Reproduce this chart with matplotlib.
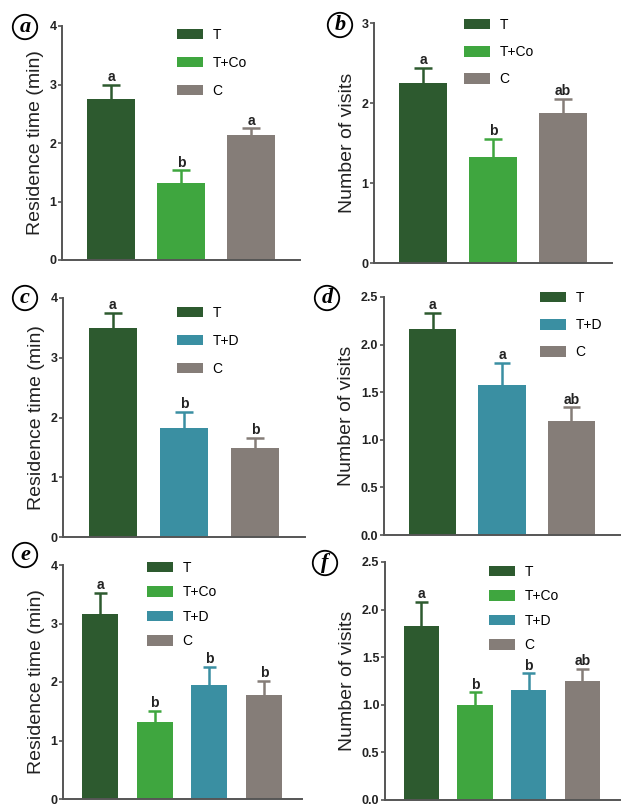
import matplotlib
matplotlib.use('Agg')
import matplotlib.pyplot as plt
import numpy as np

plt.rcParams['font.family'] = ['Liberation Sans', 'DejaVu Sans']

# Data
groups_co = ['T', 'T+Co', 'C']
groups_d = ['T', 'T+D', 'C']
groups_all = ['T', 'T+Co', 'T+D', 'C']

res_a = [2.75, 1.32, 2.13]
res_a_err = [0.25, 0.21, 0.12]
vis_b = [2.25, 1.33, 1.87]
vis_b_err = [0.19, 0.22, 0.18]
sig_a = ['a', 'b', 'a']
sig_b = ['a', 'b', 'ab']

res_c = [3.49, 1.83, 1.49]
res_c_err = [0.26, 0.26, 0.17]
vis_d = [2.16, 1.58, 1.20]
vis_d_err = [0.17, 0.23, 0.14]
sig_c = ['a', 'b', 'b']
sig_d = ['a', 'a', 'ab']

res_e = [3.17, 1.31, 1.95, 1.77]
res_e_err = [0.35, 0.20, 0.31, 0.25]
vis_f = [1.83, 1.00, 1.16, 1.25]
vis_f_err = [0.25, 0.13, 0.17, 0.13]
sig_e = ['a', 'b', 'b', 'b']
sig_f = ['a', 'b', 'b', 'ab']

colors = {'T': '#2d5a2f', 'T+Co': '#3fa63f', 'T+D': '#3a8fa2', 'C': '#857d78'}
axis_col = '#555555'

fig = plt.figure(figsize=(6.24, 8.07), dpi=100)
W, H = 624.0, 807.0


def make_ax(l, r, b, t):
    return fig.add_axes([l / W, 1 - b / H, (r - l) / W, (b - t) / H])


def panel(ax, groups, vals, errs, sigs, ymax, yticks, ylabel, fmt, xlim, width,
          leg_xy, leg_space):
    x = np.arange(len(groups))
    cols = [colors[g] for g in groups]
    bars = ax.bar(x, vals, width=width, color=cols, zorder=2)
    cap = width * 0.18
    for xi, v, e, c, s in zip(x, vals, errs, cols, sigs):
        ax.vlines(xi, v, v + e, color=c, lw=1.8, zorder=1)
        ax.hlines(v + e, xi - cap, xi + cap, color=c, lw=1.8, zorder=1)
        ax.text(xi, v + e + ymax * 0.003, s, ha='center', va='bottom',
                fontsize=10, fontweight='bold', color='#222222')
    ax.set_xlim(*xlim)
    ax.set_ylim(0, ymax)
    ax.set_yticks(yticks)
    ax.set_yticklabels([fmt.format(t) for t in yticks], fontweight='bold',
                       fontsize=9, color='#222222')
    ax.set_xticks([])
    for sp in ['top', 'right']:
        ax.spines[sp].set_visible(False)
    for sp in ['left', 'bottom']:
        ax.spines[sp].set_color(axis_col)
        ax.spines[sp].set_linewidth(1.4)
    ax.tick_params(axis='y', length=3, width=1.2, color=axis_col, pad=1)
    ax.set_ylabel(ylabel, fontsize=14, color='#222222', labelpad=4)
    ax.legend(bars, groups, loc='upper left',
              bbox_to_anchor=(leg_xy[0] / W, 1 - leg_xy[1] / H),
              bbox_transform=fig.transFigure, frameon=False, fontsize=10,
              handlelength=1.85, handleheight=0.8, labelspacing=leg_space,
              handletextpad=0.7, borderpad=0, borderaxespad=0)


def circ_label(xp, yp, letter):
    fig.text(xp / W, 1 - yp / H, letter, ha='center', va='center',
             fontsize=16, fontweight='bold', fontstyle='italic',
             family='Liberation Serif',
             bbox=dict(boxstyle='circle,pad=0.1', fc='white', ec='black', lw=1.3))


ax_a = make_ax(62, 300, 260, 26)
panel(ax_a, groups_co, res_a, res_a_err, sig_a, 4, [0, 1, 2, 3, 4],
      'Residence time (min)', '{:g}', (-0.7, 2.7), 0.68, (177, 28), 1.0)
ax_b = make_ax(374, 612, 263, 23)
panel(ax_b, groups_co, vis_b, vis_b_err, sig_b, 3, [0, 1, 2, 3],
      'Number of visits', '{:g}', (-0.7, 2.7), 0.68, (464, 18), 0.95)
ax_c = make_ax(63, 305, 537, 298)
panel(ax_c, groups_d, res_c, res_c_err, sig_c, 4, [0, 1, 2, 3, 4],
      'Residence time (min)', '{:g}', (-0.7, 2.7), 0.68, (177, 306), 1.0)
ax_d = make_ax(384, 620, 535, 297)
panel(ax_d, groups_d, vis_d, vis_d_err, sig_d, 2.5, [0, 0.5, 1.0, 1.5, 2.0, 2.5],
      'Number of visits', '{:.1f}', (-0.7, 2.7), 0.68, (540, 291), 0.95)
ax_e = make_ax(63, 302, 799, 565)
panel(ax_e, groups_all, res_e, res_e_err, sig_e, 4, [0, 1, 2, 3, 4],
      'Residence time (min)', '{:g}', (-0.68, 3.7), 0.66, (147, 561), 0.75)
ax_f = make_ax(385, 620, 800, 562)
panel(ax_f, groups_all, vis_f, vis_f_err, sig_f, 2.5, [0, 0.5, 1.0, 1.5, 2.0, 2.5],
      'Number of visits', '{:.1f}', (-0.68, 3.7), 0.66, (489, 565), 0.75)

circ_label(25, 27, 'a')
circ_label(340, 25, 'b')
circ_label(25, 298, 'c')
circ_label(327, 298, 'd')
circ_label(25, 555, 'e')
circ_label(325, 563, 'f')

fig.savefig('out.png', dpi=100)
